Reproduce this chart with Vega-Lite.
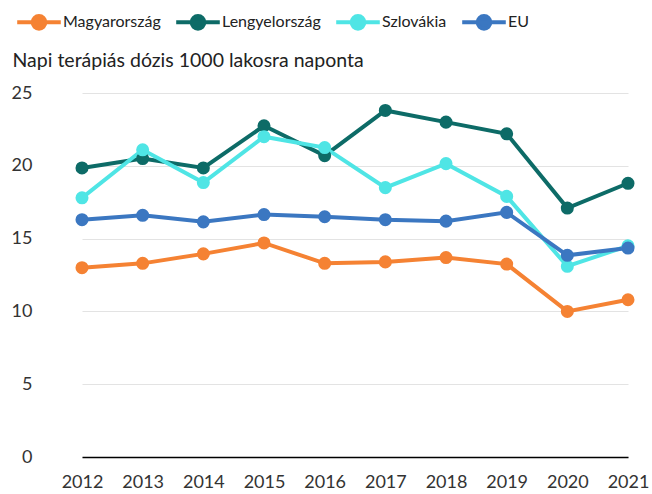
{
  "$schema": "https://vega.github.io/schema/vega-lite/v6.json",
  "width": 588,
  "height": 364,
  "autosize": "none",
  "padding": {"left": 52, "top": 93, "right": 12, "bottom": 37},
  "config": {
    "font": "Lato",
    "view": {"stroke": null},
    "axis": {"labelFont": "Lato", "labelColor": "#333333", "labelFontSize": 18, "titleFont": "Lato"}
  },
  "data": {
    "values": [
      {"ev": "2012", "orszag": "Magyarország", "ertek": 13.0},
      {"ev": "2013", "orszag": "Magyarország", "ertek": 13.3},
      {"ev": "2014", "orszag": "Magyarország", "ertek": 13.95},
      {"ev": "2015", "orszag": "Magyarország", "ertek": 14.7},
      {"ev": "2016", "orszag": "Magyarország", "ertek": 13.3},
      {"ev": "2017", "orszag": "Magyarország", "ertek": 13.4},
      {"ev": "2018", "orszag": "Magyarország", "ertek": 13.7},
      {"ev": "2019", "orszag": "Magyarország", "ertek": 13.25},
      {"ev": "2020", "orszag": "Magyarország", "ertek": 10.0},
      {"ev": "2021", "orszag": "Magyarország", "ertek": 10.8},
      {"ev": "2012", "orszag": "Lengyelország", "ertek": 19.85},
      {"ev": "2013", "orszag": "Lengyelország", "ertek": 20.5},
      {"ev": "2014", "orszag": "Lengyelország", "ertek": 19.85},
      {"ev": "2015", "orszag": "Lengyelország", "ertek": 22.75},
      {"ev": "2016", "orszag": "Lengyelország", "ertek": 20.7},
      {"ev": "2017", "orszag": "Lengyelország", "ertek": 23.8},
      {"ev": "2018", "orszag": "Lengyelország", "ertek": 23.0},
      {"ev": "2019", "orszag": "Lengyelország", "ertek": 22.2},
      {"ev": "2020", "orszag": "Lengyelország", "ertek": 17.1},
      {"ev": "2021", "orszag": "Lengyelország", "ertek": 18.8},
      {"ev": "2012", "orszag": "Szlovákia", "ertek": 17.8},
      {"ev": "2013", "orszag": "Szlovákia", "ertek": 21.1},
      {"ev": "2014", "orszag": "Szlovákia", "ertek": 18.85},
      {"ev": "2015", "orszag": "Szlovákia", "ertek": 22.0},
      {"ev": "2016", "orszag": "Szlovákia", "ertek": 21.25},
      {"ev": "2017", "orszag": "Szlovákia", "ertek": 18.5},
      {"ev": "2018", "orszag": "Szlovákia", "ertek": 20.15},
      {"ev": "2019", "orszag": "Szlovákia", "ertek": 17.9},
      {"ev": "2020", "orszag": "Szlovákia", "ertek": 13.1},
      {"ev": "2021", "orszag": "Szlovákia", "ertek": 14.5},
      {"ev": "2012", "orszag": "EU", "ertek": 16.3},
      {"ev": "2013", "orszag": "EU", "ertek": 16.6},
      {"ev": "2014", "orszag": "EU", "ertek": 16.15},
      {"ev": "2015", "orszag": "EU", "ertek": 16.65},
      {"ev": "2016", "orszag": "EU", "ertek": 16.5},
      {"ev": "2017", "orszag": "EU", "ertek": 16.3},
      {"ev": "2018", "orszag": "EU", "ertek": 16.2},
      {"ev": "2019", "orszag": "EU", "ertek": 16.8},
      {"ev": "2020", "orszag": "EU", "ertek": 13.85},
      {"ev": "2021", "orszag": "EU", "ertek": 14.35}
    ]
  },
  "mark": {"type": "line", "strokeWidth": 4, "point": {"filled": true, "size": 170, "opacity": 1}},
  "encoding": {
    "x": {
      "field": "ev", "type": "ordinal",
      "scale": {"type": "point", "range": [30, 576], "padding": 0},
      "axis": {"title": null, "labelAngle": 0, "domainColor": "#000000", "domainWidth": 1.5, "ticks": false, "labelPadding": 16, "grid": false}
    },
    "y": {
      "field": "ertek", "type": "quantitative",
      "scale": {"domain": [0, 25]},
      "axis": {
        "values": [0, 5, 10, 15, 20, 25],
        "domain": false, "ticks": false, "labelPadding": 20,
        "gridColor": "#e3e3e3", "gridWidth": 1,
        "title": "Napi terápiás dózis 1000 lakosra naponta",
        "titleAngle": 0, "titleAlign": "left", "titleBaseline": "alphabetic",
        "titleX": -40, "titleY": -27, "titleFontSize": 19.5, "titleFontWeight": "normal", "titleColor": "#222222"
      }
    },
    "color": {
      "field": "orszag", "type": "nominal",
      "scale": {"domain": ["Magyarország", "Lengyelország", "Szlovákia", "EU"], "range": ["#F58233", "#0D6B67", "#4FE5E5", "#3B77C1"]},
      "legend": {
        "title": null, "orient": "none", "direction": "horizontal",
        "legendX": -37, "legendY": -95,
        "symbolType": "M-1,0L1,0M-0.29,0A0.29,0.29 0 1 1 0.29,0A0.29,0.29 0 1 1 -0.29,0Z",
        "symbolSize": 1900, "symbolStrokeWidth": 4,
        "labelFontSize": 16, "labelColor": "#222222", "labelOffset": 0,
        "columnPadding": 7,
        "encode": {"symbols": {"update": {"fill": {"scale": "color", "field": "value"}, "stroke": {"scale": "color", "field": "value"}, "opacity": {"value": 1}}}}
      }
    },
    "order": {"field": "ev"}
  }
}
